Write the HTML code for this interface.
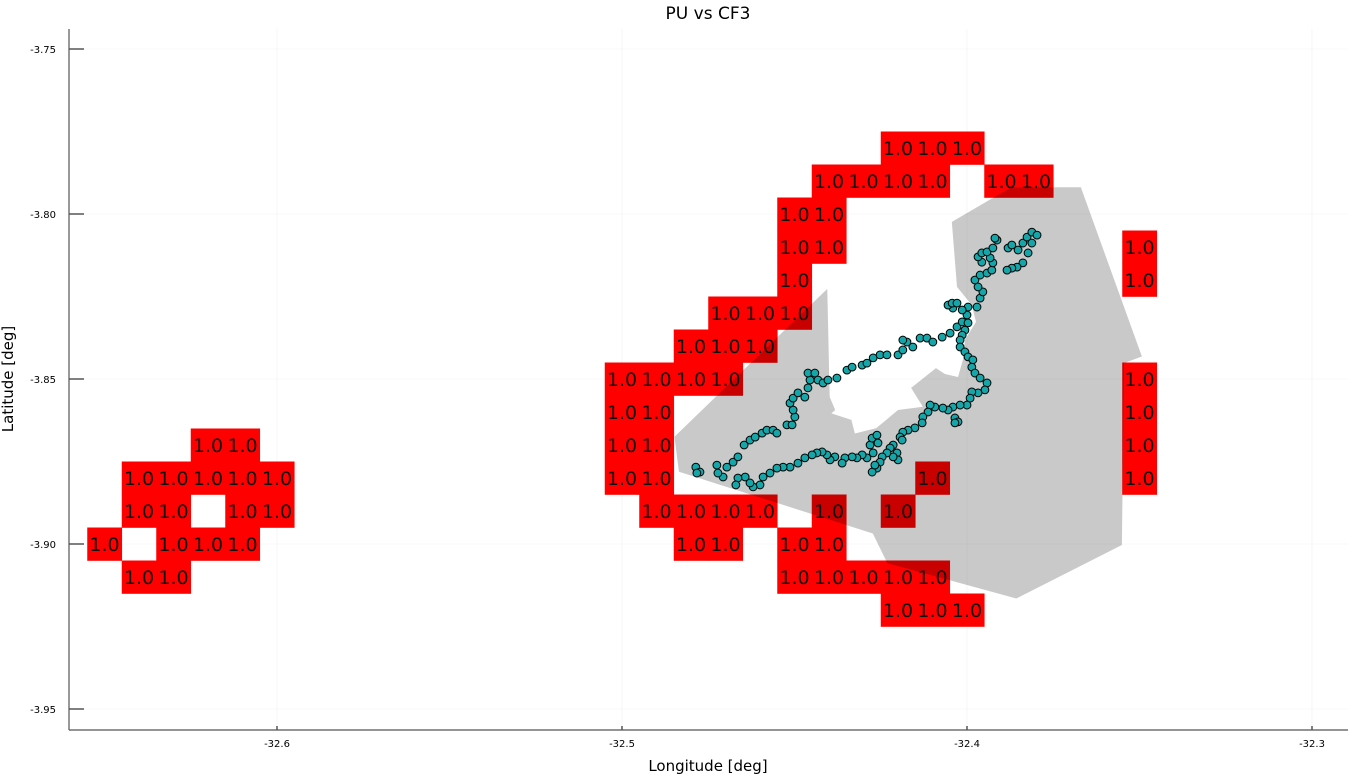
<!DOCTYPE html>
<html><head><meta charset="utf-8"><title>PU vs CF3</title>
<style>
html,body{margin:0;padding:0;background:#fff;}
svg{display:block;font-family:"DejaVu Sans","Liberation Sans",sans-serif;}
</style></head>
<body>
<svg id="chart" width="1360" height="775" viewBox="0 0 1360 775" xmlns="http://www.w3.org/2000/svg">
<text x="708" y="19" text-anchor="middle" font-size="17" fill="#000">PU vs CF3</text>
<g id="grid"></g>
<g id="cells"></g>
<g id="poly"></g>
<g id="labels"></g>
<g id="track"></g>
<g id="axes"></g>
<text x="708" y="771" text-anchor="middle" font-size="15" fill="#000">Longitude [deg]</text>
<text transform="translate(13,379) rotate(-90)" text-anchor="middle" font-size="15" fill="#000">Latitude [deg]</text>
</svg>
<script>
const xTicks = [-32.6, -32.5, -32.4, -32.3];
const xTickLabels = ["-32.6", "-32.5", "-32.4", "-32.3"];
const yTicks = [-3.75, -3.80, -3.85, -3.90, -3.95];
const yTickLabels = ["-3.75", "-3.80", "-3.85", "-3.90", "-3.95"];

const cellLon = [
-32.42,-32.41,-32.40,
-32.44,-32.43,-32.42,-32.41,-32.39,-32.38,
-32.45,-32.44,
-32.45,-32.44,-32.35,
-32.45,-32.35,
-32.47,-32.46,-32.45,
-32.48,-32.47,-32.46,
-32.50,-32.49,-32.48,-32.47,-32.35,
-32.50,-32.49,-32.35,
-32.50,-32.49,-32.35,-32.62,-32.61,
-32.50,-32.49,-32.41,-32.35,-32.64,-32.63,-32.62,-32.61,-32.60,
-32.49,-32.48,-32.47,-32.46,-32.44,-32.42,-32.64,-32.63,-32.61,-32.60,
-32.48,-32.47,-32.45,-32.44,-32.65,-32.63,-32.62,-32.61,
-32.45,-32.44,-32.43,-32.42,-32.41,-32.64,-32.63,
-32.42,-32.41,-32.40];
const cellLat = [
-3.78,-3.78,-3.78,
-3.79,-3.79,-3.79,-3.79,-3.79,-3.79,
-3.80,-3.80,
-3.81,-3.81,-3.81,
-3.82,-3.82,
-3.83,-3.83,-3.83,
-3.84,-3.84,-3.84,
-3.85,-3.85,-3.85,-3.85,-3.85,
-3.86,-3.86,-3.86,
-3.87,-3.87,-3.87,-3.87,-3.87,
-3.88,-3.88,-3.88,-3.88,-3.88,-3.88,-3.88,-3.88,-3.88,
-3.89,-3.89,-3.89,-3.89,-3.89,-3.89,-3.89,-3.89,-3.89,-3.89,
-3.90,-3.90,-3.90,-3.90,-3.90,-3.90,-3.90,-3.90,
-3.91,-3.91,-3.91,-3.91,-3.91,-3.91,-3.91,
-3.92,-3.92,-3.92];
const cellValue = cellLon.map(() => "1.0");

const polyLon = [-32.4405,-32.4398,-32.4382,-32.4393,-32.4335,-32.4325,-32.4263,-32.4200,-32.4128,-32.4162,-32.4090,-32.4064,-32.4026,-32.4012,-32.4006,-32.3974,-32.3986,-32.4029,-32.4044,-32.3872,-32.3670,-32.3493,-32.3545,-32.3551,-32.3857,-32.4231,-32.4273,-32.4835,-32.4848];
const polyLat = [-3.8227,-3.8554,-3.8594,-3.8604,-3.8624,-3.8665,-3.8649,-3.8594,-3.8584,-3.8527,-3.8467,-3.8485,-3.8494,-3.8442,-3.8382,-3.8327,-3.8276,-3.8221,-3.8024,-3.7919,-3.7919,-3.8432,-3.8452,-3.9003,-3.9165,-3.9058,-3.8968,-3.8781,-3.8675];

const trackLon = [-32.4786,-32.4774,-32.4725,-32.4696,-32.4678,-32.4664,-32.4646,-32.4629,-32.4614,-32.4594,-32.4580,-32.4562,-32.4551,-32.4522,-32.4507,-32.4499,-32.4504,-32.4513,-32.4504,-32.4490,-32.4470,-32.4461,-32.4455,-32.4461,-32.4441,-32.4432,-32.4417,-32.4403,-32.4377,-32.4348,-32.4333,-32.4304,-32.4290,-32.4272,-32.4252,-32.4232,-32.4200,-32.4186,-32.4174,-32.4186,-32.4157,-32.4136,-32.4116,-32.4099,-32.4072,-32.4049,-32.4029,-32.4014,-32.4000,-32.3997,-32.4014,-32.4041,-32.4055,-32.4043,-32.4029,-32.3971,-32.3962,-32.3954,-32.3968,-32.3977,-32.3962,-32.3942,-32.3928,-32.3925,-32.3933,-32.3957,-32.3968,-32.3957,-32.3942,-32.3925,-32.3913,-32.3919,-32.3881,-32.3870,-32.3852,-32.3838,-32.3826,-32.3812,-32.3797,-32.3812,-32.3823,-32.3838,-32.3855,-32.3870,-32.3884,
-32.3997,-32.4006,-32.4014,-32.4020,-32.4020,-32.4006,-32.3997,-32.3983,-32.3986,-32.3977,-32.3962,-32.3942,-32.3948,-32.3968,-32.3986,-32.3991,-32.4000,-32.4020,-32.4041,-32.4055,-32.4070,-32.4093,-32.4107,-32.4113,-32.4128,-32.4130,-32.4151,-32.4171,-32.4186,-32.4194,-32.4035,-32.4026,-32.4035,-32.4188,-32.4214,-32.4223,-32.4203,-32.4200,-32.4214,-32.4232,-32.4246,-32.4252,-32.4261,-32.4275,-32.4267,-32.4281,-32.4275,-32.4261,-32.4258,-32.4272,-32.4290,-32.4304,-32.4319,-32.4333,-32.4354,-32.4362,-32.4383,-32.4397,-32.4406,-32.4420,-32.4435,-32.4449,-32.4470,-32.4490,-32.4513,-32.4533,-32.4551,-32.4571,-32.4591,-32.4600,-32.4620,-32.4629,-32.4643,-32.4664,-32.4670,-32.4707,-32.4722,-32.4783];
const trackLat = [-3.8767,-3.8782,-3.8761,-3.8767,-3.8752,-3.8736,-3.8700,-3.8685,-3.8676,-3.8664,-3.8655,-3.8655,-3.8664,-3.8639,-3.8639,-3.8615,-3.8594,-3.8573,-3.8558,-3.8542,-3.8555,-3.8527,-3.8503,-3.8482,-3.8482,-3.8503,-3.8512,-3.8503,-3.8497,-3.8473,-3.8464,-3.8458,-3.8452,-3.8436,-3.8427,-3.8427,-3.8427,-3.8412,-3.8388,-3.8382,-3.8403,-3.8376,-3.8376,-3.8388,-3.8373,-3.8361,-3.8342,-3.8327,-3.8306,-3.8282,-3.8291,-3.8285,-3.8276,-3.8270,-3.8270,-3.8282,-3.8255,-3.8236,-3.8221,-3.8200,-3.8185,-3.8179,-3.8170,-3.8148,-3.8133,-3.8146,-3.8130,-3.8118,-3.8115,-3.8103,-3.8079,-3.8073,-3.8103,-3.8094,-3.8109,-3.8088,-3.8070,-3.8055,-3.8064,-3.8088,-3.8118,-3.8148,-3.8161,-3.8164,-3.8170,
-3.8330,-3.8352,-3.8367,-3.8382,-3.8403,-3.8418,-3.8433,-3.8442,-3.8464,-3.8482,-3.8497,-3.8512,-3.8533,-3.8542,-3.8539,-3.8558,-3.8579,-3.8579,-3.8585,-3.8594,-3.8588,-3.8585,-3.8579,-3.8600,-3.8615,-3.8633,-3.8648,-3.8655,-3.8661,-3.8676,-3.8618,-3.8630,-3.8633,-3.8685,-3.8700,-3.8709,-3.8724,-3.8745,-3.8736,-3.8724,-3.8736,-3.8752,-3.8770,-3.8782,-3.8761,-3.8700,-3.8679,-3.8670,-3.8694,-3.8724,-3.8739,-3.8730,-3.8739,-3.8736,-3.8739,-3.8755,-3.8736,-3.8745,-3.8730,-3.8721,-3.8724,-3.8730,-3.8739,-3.8755,-3.8767,-3.8767,-3.8770,-3.8785,-3.8797,-3.8821,-3.8827,-3.8815,-3.8797,-3.8800,-3.8821,-3.8797,-3.8785,-3.8785];

const NS = "http://www.w3.org/2000/svg";
const plotL = 69, plotR = 1348, plotT = 29, plotB = 730;
function xs(lon){ return 622 + (lon + 32.5) * 3450; }
function ys(lat){ return 379 - (lat + 3.85) * 3300; }
function mk(tag, parent){ const e = document.createElementNS(NS, tag); parent.appendChild(e); return e; }

const grid = document.getElementById('grid');
const axes = document.getElementById('axes');
xTicks.forEach((t, i) => {
  const g = mk('line', grid);
  
  
  g.setAttribute('x1', xs(t)); g.setAttribute('x2', xs(t));
  g.setAttribute('y1', plotT); g.setAttribute('y2', plotB);
  g.setAttribute('stroke', 'rgba(0,0,0,0.06)'); g.setAttribute('stroke-width', '0.6');
  const tk = mk('line', axes);
  
  
  tk.setAttribute('x1', xs(t)); tk.setAttribute('x2', xs(t));
  tk.setAttribute('y1', plotB); tk.setAttribute('y2', plotB - 4);
  tk.setAttribute('stroke', '#000'); tk.setAttribute('stroke-width', '1');
  const lb = mk('text', axes);
  
  
  lb.setAttribute('x', xs(t)); lb.setAttribute('y', 747);
  lb.setAttribute('text-anchor', 'middle'); lb.setAttribute('font-size', '10');
  lb.textContent = xTickLabels[i];
});
yTicks.forEach((t, i) => {
  const g = mk('line', grid);
  
  
  g.setAttribute('x1', plotL); g.setAttribute('x2', plotR);
  g.setAttribute('y1', ys(t)); g.setAttribute('y2', ys(t));
  g.setAttribute('stroke', 'rgba(0,0,0,0.06)'); g.setAttribute('stroke-width', '0.6');
  const tk = mk('line', axes);
  
  
  tk.setAttribute('x1', plotL); tk.setAttribute('x2', plotL + 15);
  tk.setAttribute('y1', ys(t)); tk.setAttribute('y2', ys(t));
  tk.setAttribute('stroke', '#000'); tk.setAttribute('stroke-width', '1');
  const lb = mk('text', axes);
  
  
  lb.setAttribute('x', 56); lb.setAttribute('y', ys(t) + 4);
  lb.setAttribute('text-anchor', 'end'); lb.setAttribute('font-size', '10');
  lb.textContent = yTickLabels[i];
});
const ax1 = mk('line', axes);


ax1.setAttribute('x1', plotL); ax1.setAttribute('x2', plotL); ax1.setAttribute('y1', plotT); ax1.setAttribute('y2', plotB);
ax1.setAttribute('stroke', '#555'); ax1.setAttribute('stroke-width', '1.2');
const ax2 = mk('line', axes);


ax2.setAttribute('x1', plotL); ax2.setAttribute('x2', plotR); ax2.setAttribute('y1', plotB); ax2.setAttribute('y2', plotB);
ax2.setAttribute('stroke', '#555'); ax2.setAttribute('stroke-width', '1.2');

const cells = document.getElementById('cells');
const labels = document.getElementById('labels');
cellLon.forEach((lon, i) => {
  const lat = cellLat[i];
  const x0 = xs(lon - 0.005), x1 = xs(lon + 0.005);
  const y0 = ys(lat + 0.005), y1 = ys(lat - 0.005);
  const r = mk('rect', cells);
  
  
  r.setAttribute('x', x0); r.setAttribute('y', y0);
  r.setAttribute('width', x1 - x0 + 0.3); r.setAttribute('height', y1 - y0 + 0.3);
  r.setAttribute('fill', '#ff0000');
  const t = mk('text', labels);
  
  
  t.setAttribute('x', xs(lon)); t.setAttribute('y', ys(lat) + 7);
  t.setAttribute('text-anchor', 'middle'); t.setAttribute('font-size', '19');
  t.setAttribute('fill', '#111');
  t.textContent = cellValue[i];
});

const poly = document.getElementById('poly');
const pg = mk('polygon', poly);


pg.setAttribute('points', polyLon.map((lon, i) => xs(lon) + ',' + ys(polyLat[i])).join(' '));
pg.setAttribute('fill', 'rgba(0,0,0,0.21)');

const track = document.getElementById('track');
trackLon.forEach((lon, i) => {
  const c = mk('circle', track);
  
  
  c.setAttribute('cx', xs(lon)); c.setAttribute('cy', ys(trackLat[i]));
  c.setAttribute('r', '3.9');
  c.setAttribute('fill', '#14a6a8'); c.setAttribute('stroke', '#000'); c.setAttribute('stroke-width', '1');
});
</script>
</body></html>
